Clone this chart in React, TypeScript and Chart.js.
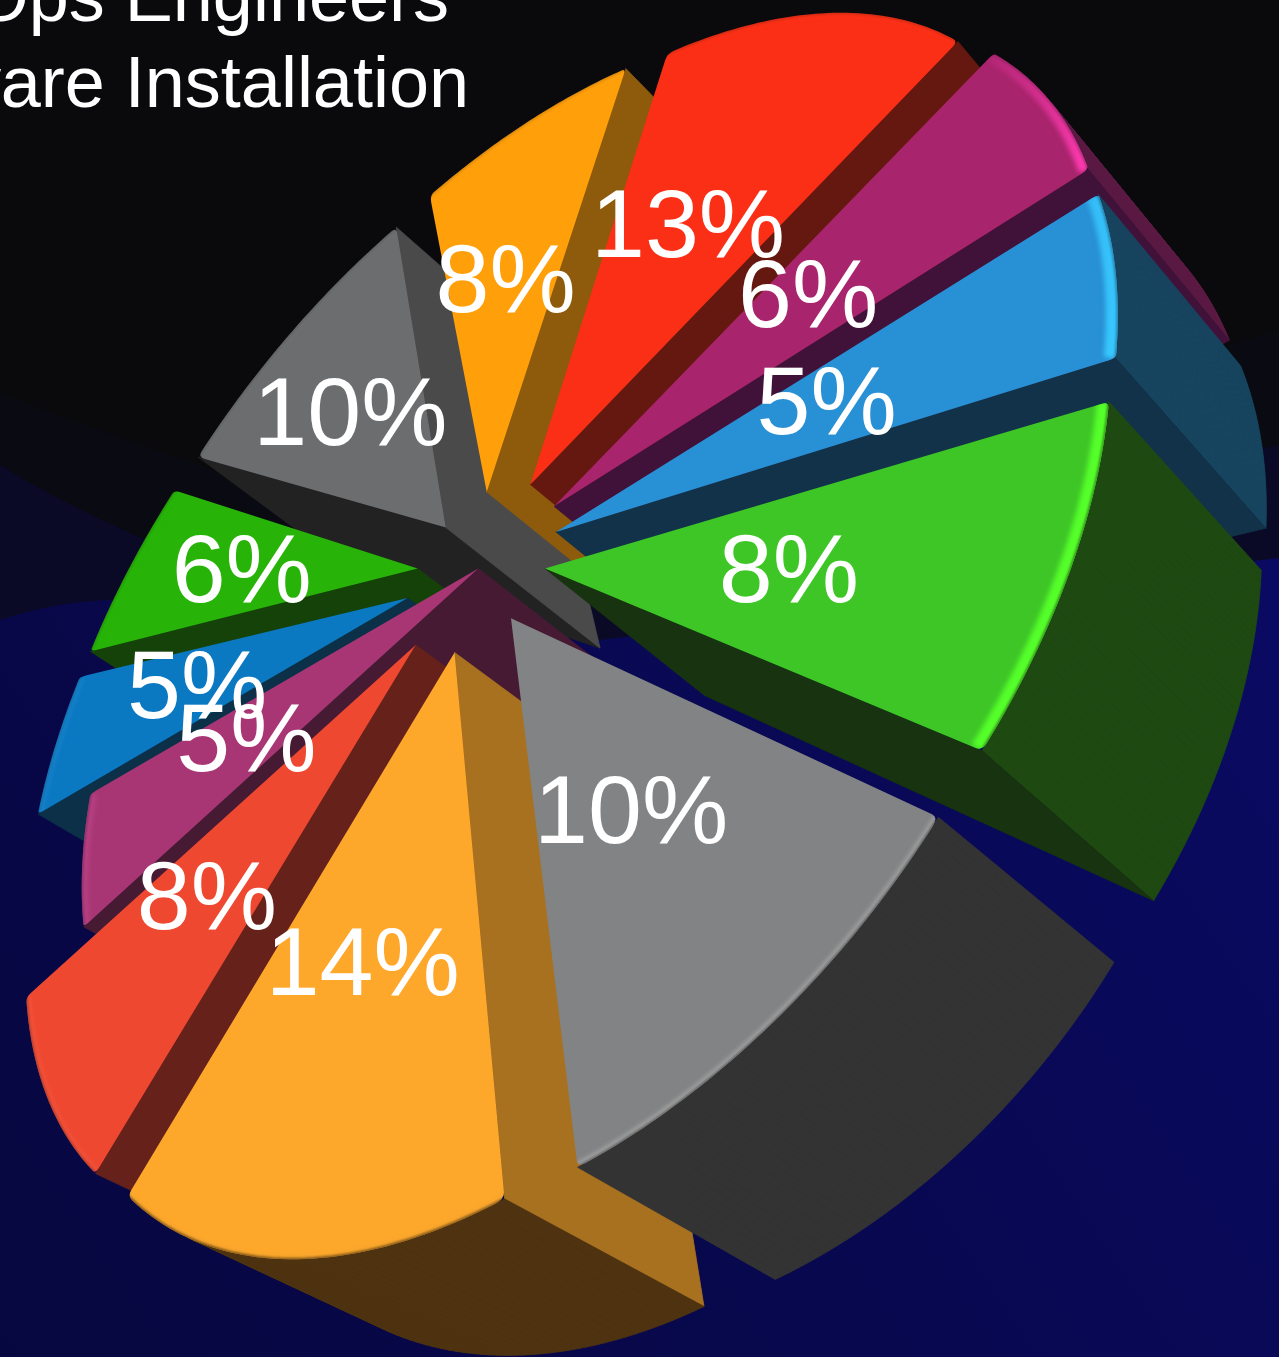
import React, { useEffect, useRef } from "react";
import { Chart, registerables } from "chart.js";
Chart.register(...registerables);

// Data
const categories = ["Slice 1","Slice 2","Slice 3","Slice 4","Slice 5","Slice 6","Slice 7","Slice 8","Slice 9","Slice 10","Slice 11","Slice 12"];
const values = [8.25, 10.35, 13.5, 8.34, 5.2, 5.21, 6.34, 10.49, 8.45, 12.52, 6.25, 5.1];
const titleLines = ["DevOps Engineers", "Software Installation"];

// Per-slice styles
const explode = [0.17, 0.17, 0.166, 0.168, 0.001, 0.168, 0.168, 0.165, 0.171, 0.169, 0.171, 0.171];
const topColors = ["#3ec627","#828384","#fea82b","#ef4831","#a83674","#0b78c2","#27b308","#6c6d6f","#ff9f0a","#fb2f16","#a8246c","#2890d4"];
const startSide = ["#17330f","#333333","#a8711f","#66221a","#471a33","#0b3047","#154208","#222223","#8e5a0b","#65180f","#40123a","#12324a"];
const endSide = ["#17330f","#333333","#a8711f","#66221a","#471a33","#0b3047","#154208","#4a4a4b","#8e5a0b","#65180f","#40123a","#12324a"];
const outerSide = ["#1e4a12","#333333","#4f3310","#3a1510","#3a1030","#0d3a52","#123a08","#333334","#5a3a08","#501208","#5c1a44","#174560"];
const rimColors = ["#55ff2a","#c4c4c4","#e8a030","#ff6a50","#c84c94","#2c98dc","#30c010","#909090","#ffb030","#ff5030","#ff3ab0","#38c8ff"];
const rimAlpha = [1,0.6,0.4,0.4,0.5,0.4,0.2,0.1,0.1,0.1,1,1];
const rimFade = [1,1,1,1,1,1,1,1,1,1,0.15,0.8];
const rimWidth = [24,8,8,8,12,8,6,6,6,6,20,24];
const edgeAlpha = [0.6,0.6,0.7,0.35,0.35,0.3,0.25,0.25,0.25,0.25,0.4,0.5];
const labelRadius = [0.53,0.54,0.55,0.56,0.56,0.56,0.56,0.55,0.54,0.54,0.54,0.53];
const labelShift = [0.1,0.6,0.7,0.4,0.3,0,-0.2,-0.5,-1.0,-0.8,-0.6,-0.7];

// Camera: plane (x, y, height) to the page
const camX = [271.7, -278.4, 478.7, 198.93];
const camY = [-126.3, 457.7, 568.2, 167.0];
const camW = [-0.21947627, -0.09188526, 1, 0.0644];
const rotationDeg = 75.52;

function proj(X: number, Y: number, z: number) {
  const x = camX[0]*X + camX[1]*Y + camX[2] + z*camX[3];
  const y = camY[0]*X + camY[1]*Y + camY[2] + z*camY[3];
  const w = camW[0]*X + camW[1]*Y + camW[2] + z*camW[3];
  return [x/w, y/w];
}
function cutToward(p: number[], q: number[], d: number) {
  const l = Math.hypot(q[0]-p[0], q[1]-p[1]);
  return [p[0]+(q[0]-p[0])*d/l, p[1]+(q[1]-p[1])*d/l];
}
function hexA(hex: string, a: number) {
  const n = parseInt(hex.slice(1), 16);
  return `rgba(${n>>16},${(n>>8)&255},${n&255},${a})`;
}

const pie3d = {
  id: "pie3d",
  beforeDraw(chart: any) {
    const c = chart.ctx; const W = chart.width, H = chart.height;
    c.fillStyle = "#0a0a0d"; c.fillRect(0, 0, W, H);
    c.fillStyle = "#0a0a12"; c.beginPath(); c.moveTo(0,393); c.quadraticCurveTo(200,470,500,560); c.lineTo(W,330); c.lineTo(W,H); c.lineTo(0,H); c.closePath(); c.fill();
    c.fillStyle = "#0a0a26"; c.beginPath(); c.moveTo(0,465); c.quadraticCurveTo(120,540,400,640); c.lineTo(W,445); c.lineTo(W,H); c.lineTo(0,H); c.closePath(); c.fill();
    const g = c.createLinearGradient(W,500,0,H);
    g.addColorStop(0,"#0a0a64"); g.addColorStop(0.55,"#08084e"); g.addColorStop(1,"#070740");
    c.fillStyle = g; c.beginPath(); c.moveTo(0,620); c.quadraticCurveTo(60,600,120,600); c.lineTo(600,640); c.lineTo(W,558); c.lineTo(W,H); c.lineTo(0,H); c.closePath(); c.fill();
  },
  beforeDatasetsDraw(chart: any) {
    const c = chart.ctx; const arcs = chart.getDatasetMeta(0).data;
    const items = arcs.map((arc: any, i: number) => {
      const s = arc.startAngle, e = arc.endAngle, m = (s+e)/2;
      const ax = explode[i]*Math.cos(m), ay = explode[i]*Math.sin(m);
      const N = 48; const rim: number[][] = [];
      for (let k = 0; k <= N; k++) { const t = s+(e-s)*k/N; rim.push([ax+Math.cos(t), ay+Math.sin(t)]); }
      const top = rim.map(q => proj(q[0], q[1], 0));
      const bot = rim.map(q => proj(q[0], q[1], 1));
      return { i, top, bot, A: proj(ax,ay,0), Ab: proj(ax,ay,1), mid: proj(ax+0.5*Math.cos(m), ay+0.5*Math.sin(m), 0), ax, ay, m };
    });
    const dir = [camX[3]/camW[3]-480, camY[3]/camW[3]-570];
    const ordered = [...items].sort((a: any, b: any) => (a.mid[0]*dir[0]+a.mid[1]*dir[1])-(b.mid[0]*dir[0]+b.mid[1]*dir[1]));
    const quad = (p: number[], q: number[], qb: number[], pb: number[], col: string) => {
      const d = [(pb[0]-p[0]+qb[0]-q[0])/2, (pb[1]-p[1]+qb[1]-q[1])/2];
      const nx = q[1]-p[1], ny = -(q[0]-p[0]);
      if (nx*d[0]+ny*d[1] <= 0) return;
      c.fillStyle = col; c.strokeStyle = col; c.lineWidth = 0.8;
      c.beginPath(); c.moveTo(p[0],p[1]); c.lineTo(q[0],q[1]); c.lineTo(qb[0],qb[1]); c.lineTo(pb[0],pb[1]); c.closePath(); c.fill(); c.stroke();
    };
    for (const it of ordered) {
      const i = it.i, n = it.top.length-1;
      quad(it.A, it.top[0], it.bot[0], it.Ab, startSide[i]);
      for (let k = 0; k < n; k++) quad(it.top[k], it.top[k+1], it.bot[k+1], it.bot[k], outerSide[i]);
      quad(it.top[n], it.A, it.Ab, it.bot[n], endSide[i]);
      c.save();
      c.beginPath(); c.moveTo(it.A[0], it.A[1]);
      const a0 = cutToward(it.top[0], it.A, 7), a1 = cutToward(it.top[n], it.A, 7);
      c.lineTo(a0[0], a0[1]); c.quadraticCurveTo(it.top[0][0], it.top[0][1], it.top[1][0], it.top[1][1]);
      for (let k = 2; k < n; k++) c.lineTo(it.top[k][0], it.top[k][1]);
      c.quadraticCurveTo(it.top[n][0], it.top[n][1], a1[0], a1[1]);
      c.closePath();
      c.fillStyle = topColors[i]; c.fill(); c.clip();
      const rimPath = () => { c.beginPath(); it.top.forEach((q: number[], k: number) => k ? c.lineTo(q[0],q[1]) : c.moveTo(q[0],q[1])); };
      const g = c.createLinearGradient(it.top[0][0], it.top[0][1], it.top[n][0], it.top[n][1]);
      g.addColorStop(0, hexA(rimColors[i], rimFade[i]*rimAlpha[i]));
      g.addColorStop(1, hexA(rimColors[i], rimAlpha[i]));
      c.filter = "blur(2.5px)"; c.strokeStyle = g; c.lineWidth = rimWidth[i]; rimPath(); c.stroke();
      c.filter = "blur(1.2px)"; c.strokeStyle = hexA(outerSide[i], edgeAlpha[i]); c.lineWidth = 3; rimPath(); c.stroke();
      c.filter = "none";
      c.restore();
    }
    c.fillStyle = "#fff"; c.font = '97px "Liberation Sans"'; c.textAlign = "center"; c.textBaseline = "middle";
    const total = values.reduce((s, v) => s+v, 0);
    items.forEach((it: any) => {
      const t = it.m + labelShift[it.i]*Math.PI/180;
      const L = proj(it.ax+labelRadius[it.i]*Math.cos(t), it.ay+labelRadius[it.i]*Math.sin(t), 0);
      c.fillText(Math.round(values[it.i]/total*100)+"%", L[0], L[1]+5);
    });
    c.font = '72px "Liberation Sans"'; c.textAlign = "right"; c.textBaseline = "alphabetic";
    c.fillText(titleLines[0], 449, 21); c.fillText(titleLines[1], 469, 107);
    return false;
  },
};

export default function App() {
  const ref = useRef<HTMLCanvasElement>(null);
  useEffect(() => {
    const chart = new Chart(ref.current!, {
      type: "pie",
      data: { labels: categories, datasets: [{ data: values, backgroundColor: topColors }] },
      options: { animation: false, responsive: false, rotation: rotationDeg, plugins: { legend: { display: false }, tooltip: { enabled: false } } },
      plugins: [pie3d as any],
    });
    return () => chart.destroy();
  }, []);
  return (
    <div style={{ position: "absolute", left: 0, top: 0, width: 1279, height: 1357, overflow: "hidden" }}>
      <canvas ref={ref} width={1279} height={1357} />
    </div>
  );
}
